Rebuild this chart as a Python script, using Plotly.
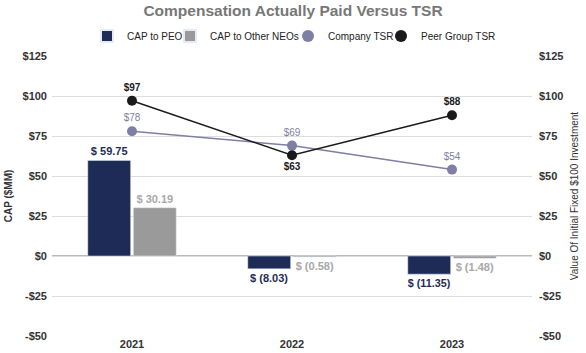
import plotly.graph_objects as go

years = ["2021", "2022", "2023"]
cap_peo = [59.75, -8.03, -11.35]
cap_neo = [30.19, -0.58, -1.48]
company_tsr = [78, 69, 54]
peer_tsr = [97, 63, 88]
tick_vals = [-50, -25, 0, 25, 50, 75, 100, 125]
tick_text = ["-$50", "-$25", "$0", "$25", "$50", "$75", "$100", "$125"]

def money(v):
    return f"$ {v:.2f}" if v >= 0 else f"$ ({abs(v):.2f})"

FONT = "Liberation Sans, Arial, sans-serif"
navy = "#1F2B57"
gray = "#9A9A9A"
lav = "#7F7FA3"
black = "#1A1A1A"

fig = go.Figure()
fig.add_trace(go.Bar(x=years, y=cap_peo, name="CAP to PEO", marker_color=navy,
                     text=[money(v) for v in cap_peo], textposition="outside",
                     textfont=dict(color=navy, size=11, family=FONT, weight="bold"),
                     cliponaxis=False, legend="legend"))
fig.add_trace(go.Bar(x=years, y=cap_neo, name="CAP to Other NEOs", marker_color=gray,
                     text=[money(v) for v in cap_neo], textposition="outside",
                     textfont=dict(color="#A8A8A8", size=11, family=FONT, weight="bold"),
                     cliponaxis=False, legend="legend2"))
fig.add_trace(go.Scatter(x=years, y=company_tsr, name="Company TSR", yaxis="y2",
                         mode="lines+markers+text", line=dict(color=lav, width=1.5),
                         marker=dict(size=10, color=lav), showlegend=False,
                         text=[f"${v}" for v in company_tsr], textposition="top center",
                         textfont=dict(color=lav, size=10, family=FONT)))
fig.add_trace(go.Scatter(x=years, y=peer_tsr, name="Peer Group TSR", yaxis="y2",
                         mode="lines+markers+text", line=dict(color=black, width=1.5),
                         marker=dict(size=10, color=black), showlegend=False,
                         text=[f"${v}" for v in peer_tsr],
                         textposition=["top center", "bottom center", "top center"],
                         textfont=dict(color=black, size=10, family=FONT, weight="bold")))
# legend-only entries (markers only, like the reference legend)
fig.add_trace(go.Scatter(x=[None], y=[None], name="Company TSR", mode="markers", yaxis="y2",
                         marker=dict(size=11, color=lav), legend="legend3"))
fig.add_trace(go.Scatter(x=[None], y=[None], name="Peer Group TSR", mode="markers", yaxis="y2",
                         marker=dict(size=11, color=black), legend="legend4"))

axis_common = dict(range=[-50, 125], tickvals=tick_vals, ticktext=tick_text,
                   tickfont=dict(size=11, color="#333333", family=FONT, weight="bold"),
                   zeroline=False, showline=False)

def leg(sym_center):
    return dict(orientation="h", x=(sym_center - 20) / 586, xanchor="left", xref="container",
                y=1 - 36 / 353, yref="container", yanchor="middle",
                font=dict(size=10, color="#222222", family=FONT),
                bgcolor="rgba(0,0,0,0)", borderwidth=0, itemsizing="constant")

fig.update_layout(
    width=586, height=353,
    margin=dict(l=52, r=54, t=56, b=17, autoexpand=False),
    paper_bgcolor="white", plot_bgcolor="white",
    font=dict(family=FONT),
    title=dict(text="Compensation Actually Paid Versus TSR", x=0.5, xanchor="center",
               y=0.985, yanchor="top",
               font=dict(size=15.5, color="#777777", family=FONT, weight="bold")),
    legend=leg(107), legend2=leg(190), legend3=leg(308), legend4=leg(401),
    bargap=0.43, bargroupgap=0.06,
    xaxis=dict(showgrid=False, tickfont=dict(size=11, color="#333333", family=FONT, weight="bold"),
               ticks="", showline=False),
    yaxis=dict(**axis_common, showgrid=True, gridcolor="#DDDDDD", gridwidth=1,
               title=dict(text="CAP ($MM)", font=dict(size=10, color="#333333", family=FONT, weight="bold"),
                          standoff=8),
               ticklabelstandoff=4),
    yaxis2=dict(**axis_common, overlaying="y", side="right", showgrid=False,
                title=dict(text="Value Of Initial Fixed $100 Investment",
                           font=dict(size=10, color="#333333", family=FONT), standoff=8),
                ticklabelstandoff=6),
    showlegend=True,
)
fig.add_shape(type="line", xref="paper", x0=0, x1=1, yref="y", y0=0, y1=0,
              line=dict(color="#777777", width=1.2), layer="below")

fig.write_html("out.html")
